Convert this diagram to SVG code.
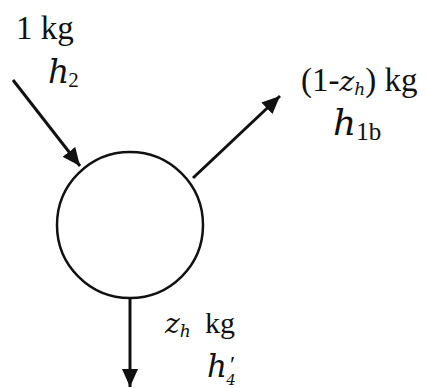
<svg xmlns="http://www.w3.org/2000/svg" width="426" height="388" viewBox="0 0 426 388">
<style>
text{font-family:"Liberation Serif","Times New Roman",serif;fill:#111;font-size:33px}
.i{font-style:italic;font-family:"DejaVu Serif","Liberation Serif",serif}
.c{fill:#fff;stroke:#111;stroke-width:2.5}
.a{stroke:#111;stroke-width:3;fill:none}
</style>
<defs>
<marker id="ah" markerUnits="userSpaceOnUse" markerWidth="20" markerHeight="16" refX="18" refY="8" orient="auto">
<path d="M0,0 L18,8 L0,16 Z" fill="#111"/>
</marker>
</defs>
<g id="node">
<circle class="c" cx="130" cy="225" r="73"/>
</g>
<g id="connectors">
<line class="a" x1="13" y1="80" x2="80" y2="166" marker-end="url(#ah)"/>
<line class="a" x1="193" y1="178" x2="280" y2="96" marker-end="url(#ah)"/>
<line class="a" x1="130" y1="298" x2="130" y2="387" marker-end="url(#ah)"/>
</g>
<g id="label-in">
<text x="16" y="39">1 kg</text>
<text x="48" y="83"><tspan class="i" style="font-size:33px">h</tspan><tspan dx="-1" dy="4" style="font-size:21px">2</tspan></text>
</g>
<g id="label-out">
<text x="301" y="91">(1-<tspan class="i" style="font-size:28px">z</tspan><tspan class="i" dy="4" style="font-size:17px">h</tspan><tspan dy="-4">) kg</tspan></text>
<text x="333" y="135"><tspan class="i" style="font-size:36px">h</tspan><tspan dy="5" style="font-size:25px">1b</tspan></text>
</g>
<g id="label-down">
<text x="165" y="333"><tspan class="i" style="font-size:28px">z</tspan><tspan class="i" dy="4" style="font-size:17px">h</tspan></text>
<text x="205" y="333" style="font-size:30px">kg</text>
<text x="207" y="377"><tspan class="i" style="font-size:31px">h</tspan><tspan dx="3" dy="-5" style="font-size:24px">′</tspan><tspan class="i" dx="-9" dy="13" style="font-size:15px">4</tspan></text>
</g>
</svg>
